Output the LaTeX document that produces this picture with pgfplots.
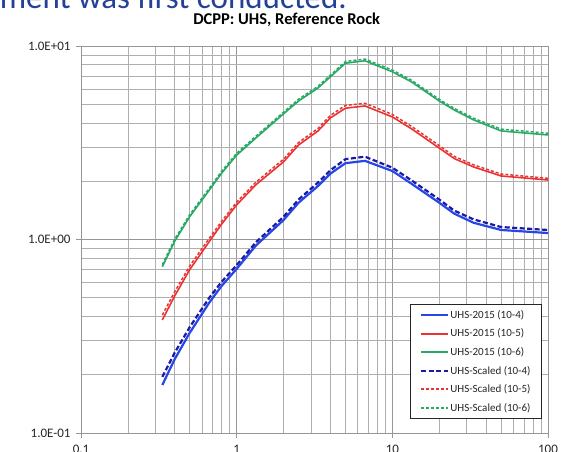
\documentclass[border=0pt]{standalone}
\usepackage{fontspec}
\setmainfont{Carlito}
\usepackage{pgfplots}
\usepackage{pgfplotstable}
\pgfplotsset{compat=1.18}

\definecolor{uhsblue}{RGB}{40,70,230}
\definecolor{uhsnavy}{RGB}{25,25,170}
\definecolor{uhsred}{RGB}{235,50,50}
\definecolor{uhsgreen}{RGB}{40,170,100}
\definecolor{slideblue}{RGB}{35,65,150}
\definecolor{gridgray}{RGB}{175,175,175}
\definecolor{majorgray}{RGB}{150,150,150}

% Uniform hazard spectra (g) versus frequency (Hz)
\pgfplotstableread{
f     b4     r5     g6     bs4    rs5    gs6
0.333 0.177  0.384  0.723  0.195  0.407  0.741
0.4   0.241  0.511  0.980  0.260  0.537  1.005
0.5   0.330  0.700  1.315  0.353  0.731  1.345
0.667 0.472  0.976  1.80   0.500  1.015  1.84
0.8   0.575  1.20   2.20   0.604  1.24   2.25
1.0   0.705  1.51   2.73   0.737  1.56   2.79
1.33  0.931  1.92   3.35   0.968  1.98   3.42
2.0   1.26   2.52   4.46   1.31   2.60   4.55
2.5   1.55   3.08   5.20   1.61   3.17   5.31
3.33  1.89   3.64   6.07   1.97   3.75   6.19
4.0   2.19   4.25   6.93   2.28   4.38   7.07
5.0   2.48   4.77   8.15   2.60   4.93   8.32
6.67  2.55   4.90   8.39   2.68   5.06   8.56
10    2.26   4.30   7.36   2.35   4.43   7.51
13.3  1.94   3.73   6.52   2.02   3.84   6.65
20    1.55   2.97   5.20   1.61   3.06   5.30
25    1.36   2.62   4.67   1.41   2.69   4.76
33.3  1.22   2.37   4.15   1.27   2.43   4.23
50    1.12   2.13   3.64   1.16   2.18   3.72
100   1.08   2.03   3.47   1.12   2.07   3.54
}\uhs

\begin{document}
\begin{tikzpicture}
\useasboundingbox (0,0) rectangle (570pt,451pt);
\clip (0,0) rectangle (570pt,451pt);

\node[anchor=base east, text=slideblue, font=\fontsize{33}{38}\selectfont, inner sep=0pt]
  at (347pt,442pt) {ment was first conducted.};

\node[anchor=base, font=\bfseries\fontsize{16.5}{19}\selectfont, inner sep=0pt]
  at (286.7pt,426.5pt) {DCPP: UHS, Reference Rock};

\begin{axis}[
  at={(81pt,18pt)}, anchor=south west,
  scale only axis, width=467pt, height=387pt,
  xmode=log, ymode=log,
  xmin=0.1, xmax=100, ymin=0.1, ymax=10,
  xtick={0.1,1,10,100}, xticklabels={0.1,1,10,100},
  ytick={0.1,1,10}, yticklabels={1.0E-01,1.0E+00,1.0E+01},
  grid=both,
  major grid style={majorgray, line width=0.8pt},
  minor grid style={gridgray, line width=0.7pt},
  axis line style={majorgray, line width=0.8pt},
  tick align=outside, tick pos=left,
  major tick length=5pt, minor tick length=0pt,
  tick style={majorgray, line width=0.8pt},
  ticklabel style={font=\fontsize{13}{15}\selectfont, text=black!85},
  yticklabel style={xshift=-2pt},
  xticklabel style={yshift=-4pt},
  legend cell align=left,
  legend style={at={(0.987,0.036)}, anchor=south east,
    draw=black!85, line width=0.8pt, fill=white,
    font=\fontsize{11}{13}\selectfont, text=black!85,
    inner xsep=10pt, inner ysep=5pt, row sep=7pt,
    nodes={inner sep=1pt}},
  legend image code/.code={\draw[#1] (0pt,0pt) -- (27pt,0pt);},
]
\addplot[draw=uhsblue, line width=2.2pt] table[x=f, y=b4] {\uhs};
\addlegendentry{UHS-2015 (10-4)}
\addplot[draw=uhsred, line width=1.6pt, legend image post style={line width=1.9pt}] table[x=f, y=r5] {\uhs};
\addlegendentry{UHS-2015 (10-5)}
\addplot[draw=uhsgreen, line width=1.6pt, legend image post style={line width=1.9pt}] table[x=f, y=g6] {\uhs};
\addlegendentry{UHS-2015 (10-6)}
\addplot[draw=uhsnavy, line width=2.2pt, dash pattern=on 5pt off 2.5pt] table[x=f, y=bs4] {\uhs};
\addlegendentry{UHS-Scaled (10-4)}
\addplot[draw=uhsred, line width=1.5pt, dash pattern=on 3pt off 2pt, legend image post style={line width=1.8pt}] table[x=f, y=rs5] {\uhs};
\addlegendentry{UHS-Scaled (10-5)}
\addplot[draw=uhsgreen, line width=1.5pt, dash pattern=on 3pt off 2pt, legend image post style={line width=1.8pt}] table[x=f, y=gs6] {\uhs};
\addlegendentry{UHS-Scaled (10-6)}
\end{axis}
\end{tikzpicture}
\end{document}
